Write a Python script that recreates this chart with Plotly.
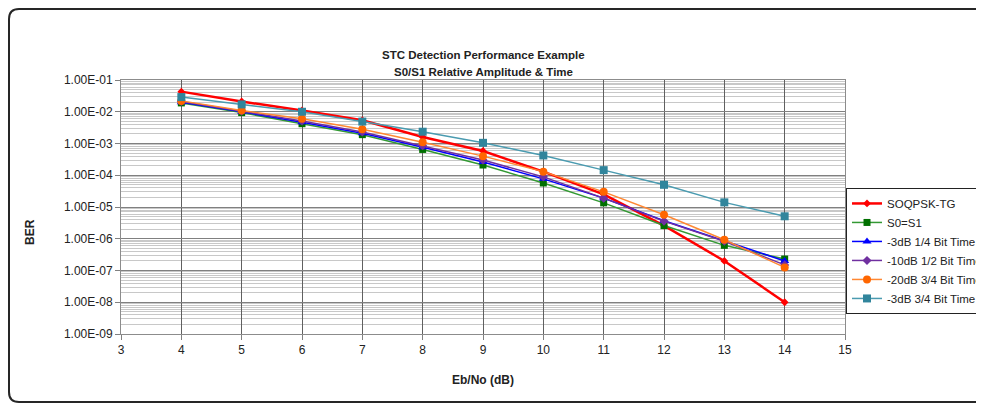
import plotly.graph_objects as go

# Eb/No points (dB)
ebno = [4, 5, 6, 7, 8, 9, 10, 11, 12, 13, 14]

# BER per series
soqpsk_tg = [4.3e-2, 2.1e-2, 1.1e-2, 5.4e-3, 1.6e-3, 5.8e-4, 1.3e-4, 2.5e-5, 2.6e-6, 2.0e-7, 1.0e-8]
s0_eq_s1 = [1.9e-2, 9.4e-3, 4.2e-3, 1.9e-3, 6.5e-4, 2.1e-4, 5.7e-5, 1.35e-5, 2.6e-6, 6.2e-7, 2.3e-7]
m3db_quarter = [2.0e-2, 1.0e-2, 4.7e-3, 2.1e-3, 7.6e-4, 2.6e-4, 7.7e-5, 1.9e-5, 3.7e-6, 8.7e-7, 2.0e-7]
m10db_half = [2.1e-2, 1.05e-2, 5.1e-3, 2.3e-3, 8.5e-4, 3.0e-4, 8.9e-5, 1.9e-5, 3.6e-6, 8.3e-7, 1.5e-7]
m20db_3q = [2.2e-2, 1.1e-2, 6.0e-3, 2.8e-3, 1.1e-3, 4.0e-4, 1.3e-4, 3.0e-5, 5.7e-6, 9.3e-7, 1.25e-7]
m3db_3q = [2.9e-2, 1.7e-2, 1.0e-2, 4.9e-3, 2.35e-3, 1.05e-3, 4.2e-4, 1.45e-4, 5.0e-5, 1.4e-5, 5.1e-6]

y_tickvals = [1e-9, 1e-8, 1e-7, 1e-6, 1e-5, 1e-4, 1e-3, 1e-2, 1e-1]
y_ticktext = ["1.00E-09", "1.00E-08", "1.00E-07", "1.00E-06", "1.00E-05",
              "1.00E-04", "1.00E-03", "1.00E-02", "1.00E-01"]

FONT = "Liberation Sans, Arial, sans-serif"

series = [
    ("SOQPSK-TG", soqpsk_tg, "#FF0000", "#FF0000", "diamond", 6, 2.5),
    ("S0=S1", s0_eq_s1, "#339933", "#007000", "square", 7, 1.5),
    ("-3dB 1/4 Bit Time", m3db_quarter, "#0000FF", "#0000FF", "triangle-up", 8, 1.5),
    ("-10dB 1/2 Bit Time", m10db_half, "#7030A0", "#7030A0", "diamond", 7, 1.5),
    ("-20dB 3/4 Bit Time", m20db_3q, "#FF8833", "#FF6600", "circle", 8, 1.5),
    ("-3dB 3/4 Bit Time", m3db_3q, "#4A9BB0", "#31859C", "square", 8, 1.5),
]

fig = go.Figure()
for name, vals, lcol, mcol, sym, size, width in series:
    fig.add_trace(go.Scatter(
        x=ebno, y=vals, name=name, mode="lines+markers",
        line=dict(color=lcol, width=width),
        marker=dict(color=mcol, symbol=sym, size=size),
    ))

fig.update_xaxes(
    range=[3, 15], dtick=1, tick0=3,
    showgrid=True, gridcolor="#606060", gridwidth=1,
    showline=True, linecolor="#8c8c8c", mirror=True,
    ticks="outside", ticklen=5, tickcolor="#808080",
    tickfont=dict(size=12, color="#222222"), zeroline=False,
)
fig.update_yaxes(
    type="log", range=[-9, -1],
    tickvals=y_tickvals, ticktext=y_ticktext,
    showgrid=True, gridcolor="#808080", gridwidth=1,
    minor=dict(dtick="D1", showgrid=True, gridcolor="#c8c8c8", ticks=""),
    showline=True, linecolor="#8c8c8c", mirror=True,
    ticks="outside", ticklen=5, tickcolor="#808080",
    tickfont=dict(size=12, color="#222222"), zeroline=False,
)

# plot area: 724 x 254 px starting at (113, 72) inside the figure
PW, PH = 724, 254

# rounded chart border (right side runs off the picture)
L, R, T, B = -112 / PW, 1.3, 325 / PH, -68 / PH
dx, dy = 10 / PW, 10 / PH
border = (f"M {R},{T} L {L + dx},{T} Q {L},{T} {L},{T - dy} "
          f"L {L},{B + dy} Q {L},{B} {L + dx},{B} L {R},{B}")

fig.update_layout(
    width=984, height=405,
    margin=dict(l=113, r=984 - 113 - PW, t=72, b=405 - 72 - PH, autoexpand=False),
    paper_bgcolor="white", plot_bgcolor="white",
    font=dict(family=FONT, size=12, color="#222222"),
    showlegend=True,
    legend=dict(
        x=1.0014, y=0.575, xanchor="left", yanchor="top",
        bordercolor="#222222", borderwidth=1, bgcolor="white",
        font=dict(size=11.5, color="#222222"),
        tracegroupgap=0, itemwidth=30,
    ),
    shapes=[dict(type="path", xref="paper", yref="paper", path=border,
                 line=dict(color="#262626", width=2))],
    annotations=[
        dict(text="<b>STC Detection Performance Example</b>",
             xref="paper", yref="paper", x=0.5, y=1.0984, xanchor="center", yanchor="middle",
             showarrow=False, font=dict(size=11.5)),
        dict(text="<b>S0/S1 Relative Amplitude & Time</b>",
             xref="paper", yref="paper", x=0.5, y=1.0315, xanchor="center", yanchor="middle",
             showarrow=False, font=dict(size=11.5)),
        dict(text="<b>Eb/No (dB)</b>", xref="paper", yref="paper", x=0.5, y=-0.181,
             xanchor="center", yanchor="middle", showarrow=False, font=dict(size=12)),
        dict(text="<b>BER</b>", xref="paper", yref="paper", x=-0.1257, y=0.4016,
             xanchor="center", yanchor="middle", textangle=-90, showarrow=False,
             font=dict(size=12)),
    ],
)

fig.write_html("out.html")
